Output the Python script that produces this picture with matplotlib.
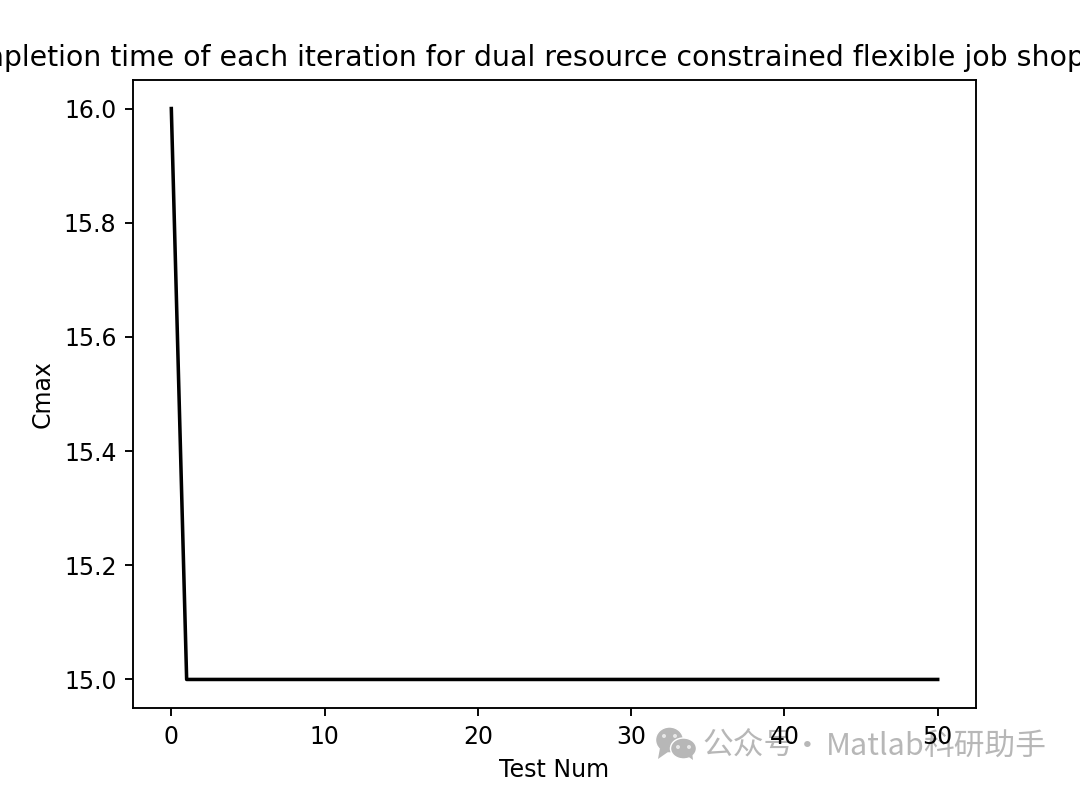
"""Completion time per iteration, flexible job shop."""

import matplotlib
matplotlib.use("Agg")
import matplotlib.pyplot as plt
from matplotlib.patches import Ellipse, Polygon

plt.rcParams['font.family'] = ['DejaVu Sans', 'Noto Sans CJK SC']

ITERATIONS = list(range(51))
CMAX = [16] + [15] * 50
TITLE = 'Completion time of each iteration for dual resource constrained flexible job shop'
WATERMARK_PARTS = [('公众号', 702), ('·', 792), ('Matlab', 826), ('科研助手', 923)]

W, H = 1080, 788
DPI = 170
WM_COLOR = '#b7b7b7'


def fx(px):
    return px / W


def fy(py):
    return 1 - py / H


def add_bubble(fig, cx, cy, w, h, tail, eyes):
    # watermark chat bubble, pixel positions from the top-left corner
    fig.add_artist(Ellipse((fx(cx), fy(cy)), w / W, h / H, transform=fig.transFigure,
                           facecolor=WM_COLOR, edgecolor='white', linewidth=0.6, zorder=-2))
    fig.add_artist(Polygon([(fx(x), fy(y)) for x, y in tail], transform=fig.transFigure,
                           facecolor=WM_COLOR, edgecolor='none', zorder=-2))
    for ex, ey in eyes:
        fig.add_artist(Ellipse((fx(ex), fy(ey)), 4 / W, 4 / H, transform=fig.transFigure,
                               facecolor='#e8e8e8', edgecolor='none', zorder=-1))


fig = plt.figure(figsize=(W / DPI, H / DPI), dpi=DPI)
ax = fig.add_axes([fx(133), fy(708), (976 - 133) / W, (708 - 80) / H])
ax.patch.set_alpha(0)
ax.plot(ITERATIONS, CMAX, color='black')
ax.set_xlabel('Test Num')
ax.set_ylabel('Cmax')
# the reference crops the title on both sides, so it sits left of the axes centre
ax.set_title(TITLE, x=0.449)
ax.set_xticks(range(0, 51, 10))

add_bubble(fig, 669.5, 740, 28, 26, [(660, 748), (658, 759), (668, 752)], [(664, 736), (675, 736)])
add_bubble(fig, 683.5, 748.5, 26, 21, [(686, 755), (693, 760), (692, 752)], [(678, 747), (689, 747)])

for part, x in WATERMARK_PARTS:
    fig.text(fx(x), fy(746), part, color=WM_COLOR, fontsize=13.0, va='center', ha='left',
             family=['Noto Sans CJK SC', 'DejaVu Sans'], zorder=-1)

fig.savefig('out.png', dpi=DPI)
